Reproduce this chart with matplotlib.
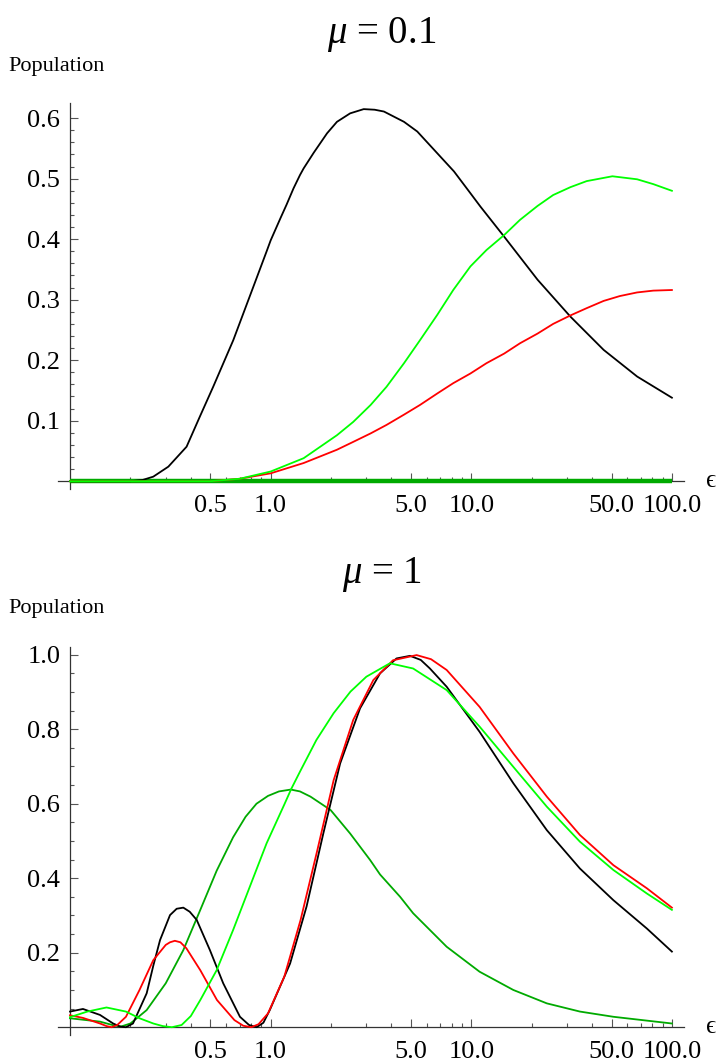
import matplotlib
matplotlib.use("Agg")
import matplotlib.pyplot as plt
from matplotlib.ticker import FixedLocator, NullFormatter, FixedFormatter

# ---------------- data ----------------
# panel 1: mu = 0.1
top_black_x = [0.1, 0.15, 0.2, 0.23, 0.26, 0.309, 0.381, 0.444, 0.517, 0.651, 0.819, 0.955, 1.0, 1.12, 1.2, 1.30,
               1.40, 1.46, 1.64, 1.91, 2.14, 2.49, 2.91, 3.3, 3.67, 4.62, 5.38, 6.77, 8.2, 9.9, 11.1, 14.6, 21.4,
               31.2, 45.7, 67.1, 100]
top_black_y = [0.0, 0.0, 0.0, 0.002, 0.0075, 0.024, 0.057, 0.107, 0.156, 0.233, 0.321, 0.380, 0.398, 0.435, 0.457,
               0.484, 0.506, 0.517, 0.543, 0.575, 0.594, 0.608, 0.615, 0.614, 0.611, 0.594, 0.578, 0.542, 0.512, 0.476,
               0.454, 0.404, 0.333, 0.272, 0.217, 0.173, 0.138]
top_green_x = [0.1, 0.3, 0.5, 0.7, 1.0, 1.46, 2.14, 2.58, 3.15, 3.78, 4.62, 5.55, 6.77, 8.13, 9.9, 11.9, 14.6, 17.5,
               21.4, 25.6, 31.2, 37.6, 50.5, 67.1, 80.8, 100]
top_green_y = [0.0, 0.0, 0.0, 0.004, 0.016, 0.038, 0.076, 0.098, 0.126, 0.156, 0.195, 0.233, 0.275, 0.316, 0.355,
               0.382, 0.407, 0.432, 0.455, 0.473, 0.486, 0.496, 0.504, 0.499, 0.491, 0.480]
top_red_x = [0.1, 0.5, 0.7, 1.0, 1.46, 2.14, 2.58, 3.15, 3.78, 4.62, 5.55, 6.77, 8.13, 9.9, 11.9, 14.6, 17.5, 21.4,
             25.6, 31.2, 37.6, 45.7, 55.0, 67.1, 80.8, 100]
top_red_y = [0.0, 0.0, 0.004, 0.013, 0.030, 0.052, 0.065, 0.079, 0.093, 0.110, 0.126, 0.145, 0.162, 0.178, 0.195,
             0.211, 0.228, 0.244, 0.260, 0.274, 0.286, 0.298, 0.306, 0.312, 0.315, 0.316]
top_dkgreen_x = [0.1, 1.0, 10.0, 100]
top_dkgreen_y = [0.0, 0.0, 0.0, 0.0]

# panel 2: mu = 1
bot_black_x = [0.1, 0.116, 0.141, 0.164, 0.177, 0.19, 0.206, 0.241, 0.26, 0.281, 0.315, 0.34, 0.367, 0.395, 0.428,
               0.498, 0.58, 0.703, 0.78, 0.851, 0.92, 0.99, 1.25, 1.51, 1.83, 2.22, 2.79, 3.51, 4.24, 4.95, 5.6, 6.22,
               7.54, 11.0, 16.2, 23.8, 34.8, 51.1, 75.0, 100]
bot_black_y = [0.042, 0.049, 0.033, 0.010, 0.002, 0.0, 0.010, 0.091, 0.165, 0.234, 0.301, 0.318, 0.321, 0.310, 0.288,
               0.207, 0.118, 0.028, 0.006, 0.0, 0.012, 0.046, 0.171, 0.324, 0.520, 0.708, 0.856, 0.950, 0.990, 0.997,
               0.986, 0.963, 0.914, 0.793, 0.655, 0.529, 0.426, 0.341, 0.265, 0.203]
bot_red_x = [0.1, 0.116, 0.141, 0.152, 0.161, 0.172, 0.19, 0.222, 0.26, 0.30, 0.315, 0.333, 0.355, 0.38, 0.446, 0.54,
             0.66, 0.73, 0.80, 0.87, 0.97, 1.17, 1.41, 1.71, 2.06, 2.58, 3.25, 4.07, 5.34, 6.3, 7.54, 11.0, 16.2, 23.8,
             34.8, 51.1, 75, 100]
bot_red_y = [0.032, 0.025, 0.010, 0.003, 0.0, 0.006, 0.028, 0.100, 0.180, 0.221, 0.228, 0.232, 0.228, 0.212, 0.153,
             0.073, 0.019, 0.004, 0.0, 0.008, 0.037, 0.136, 0.288, 0.476, 0.663, 0.825, 0.932, 0.985, 0.999, 0.988,
             0.959, 0.860, 0.735, 0.619, 0.516, 0.435, 0.373, 0.321]
bot_green_x = [0.1, 0.122, 0.152, 0.19, 0.222, 0.26, 0.29, 0.322, 0.36, 0.40, 0.446, 0.538, 0.65, 0.787, 0.955, 1.17,
               1.27, 1.40, 1.69, 2.06, 2.50, 3.0, 3.93, 5.13, 7.54, 11.0, 16.2, 23.8, 34.8, 51.1, 75, 100]
bot_green_y = [0.027, 0.042, 0.053, 0.042, 0.024, 0.010, 0.003, 0.0, 0.006, 0.030, 0.073, 0.153, 0.261, 0.377, 0.494,
               0.598, 0.641, 0.686, 0.771, 0.843, 0.901, 0.941, 0.977, 0.963, 0.905, 0.807, 0.699, 0.592, 0.498, 0.422,
               0.359, 0.315]
bot_dkgreen_x = [0.1, 0.141, 0.165, 0.18, 0.2, 0.241, 0.30, 0.367, 0.446, 0.538, 0.65, 0.75, 0.85, 0.97, 1.1, 1.26,
                 1.4, 1.58, 1.99, 2.49, 3.13, 3.51, 4.42, 5.13, 7.54, 11.0, 16.2, 23.8, 34.8, 51.1, 100]
bot_dkgreen_y = [0.024, 0.015, 0.005, 0.002, 0.01, 0.046, 0.118, 0.207, 0.315, 0.420, 0.510, 0.565, 0.600, 0.621,
                 0.633, 0.638, 0.633, 0.619, 0.583, 0.520, 0.449, 0.410, 0.350, 0.306, 0.216, 0.149, 0.100, 0.064,
                 0.042, 0.028, 0.010]

x_major = [0.5, 1.0, 5.0, 10.0, 50.0, 100.0]
x_major_labels = ["0.5", "1.0", "5.0", "10.0", "50.0", "100.0"]
x_minor = [0.2, 0.3, 0.4, 0.6, 0.7, 0.8, 0.9, 2, 3, 4, 6, 7, 8, 9, 20, 30, 40, 60, 70, 80, 90]
top_y_major = [0.1, 0.2, 0.3, 0.4, 0.5, 0.6]
top_y_labels = ["0.1", "0.2", "0.3", "0.4", "0.5", "0.6"]
bot_y_major = [0.2, 0.4, 0.6, 0.8, 1.0]
bot_y_labels = ["0.2", "0.4", "0.6", "0.8", "1.0"]
titles = [r"$\mu$ = 0.1", r"$\mu$ = 1"]
ylabel = "Population"
xlabel = "\u03f5"

# ---------------- style ----------------
plt.rcParams["font.family"] = ["Liberation Serif", "DejaVu Serif"]
plt.rcParams["mathtext.fontset"] = "custom"
plt.rcParams["mathtext.rm"] = "Liberation Serif"
plt.rcParams["mathtext.it"] = "Liberation Serif:italic"

W, H = 723, 1064
fig = plt.figure(figsize=(W / 100, H / 100), dpi=100)

AX_COL = "#333333"
TK_COL = "#555555"
BLACK, RED, GREEN, DKGREEN = "#000000", "#ff0000", "#00ff00", "#00aa00"


def make_axes(top_px, bot_px, ylim, ymaj, ylabs, yminor_step):
    left_px, right_px = 58, 684
    ax = fig.add_axes([left_px / W, 1 - bot_px / H, (right_px - left_px) / W, (bot_px - top_px) / H])
    ax.set_xscale("log")
    ax.set_xlim(0.0871, 114.9)
    ax.set_ylim(*ylim)
    for s in ("top", "right"):
        ax.spines[s].set_visible(False)
    ax.spines["left"].set_position(("data", 0.1))
    ax.spines["bottom"].set_position(("data", 0.0))
    for s in ("left", "bottom"):
        ax.spines[s].set_color(AX_COL)
        ax.spines[s].set_linewidth(0.9)
    ax.xaxis.set_major_locator(FixedLocator(x_major))
    ax.xaxis.set_major_formatter(FixedFormatter(x_major_labels))
    ax.xaxis.set_minor_locator(FixedLocator(x_minor))
    ax.xaxis.set_minor_formatter(NullFormatter())
    ax.yaxis.set_major_locator(FixedLocator(ymaj))
    ax.yaxis.set_major_formatter(FixedFormatter(ylabs))
    n = int(round(ymaj[-1] / yminor_step))
    ax.yaxis.set_minor_locator(FixedLocator([i * yminor_step for i in range(1, n + 1)]))
    ax.tick_params(which="both", direction="in", color=TK_COL, labelsize=19, width=0.8)
    ax.tick_params(which="major", length=5.5)
    ax.tick_params(which="minor", length=3.2)
    ax.tick_params(axis="x", which="major", pad=10)
    ax.tick_params(axis="y", which="major", pad=7)
    ax.patch.set_alpha(0)
    return ax


ax1 = make_axes(102.7, 489.0, (-0.0129, 0.6256), top_y_major, top_y_labels, 0.02)
ax1.plot(top_dkgreen_x, top_dkgreen_y, color=DKGREEN, lw=3.2, solid_capstyle="butt", zorder=3)
ax1.plot(top_black_x, top_black_y, color=BLACK, lw=1.3, zorder=4)
ax1.plot(top_red_x, top_red_y, color=RED, lw=1.3, zorder=4)
ax1.plot(top_green_x, top_green_y, color=GREEN, lw=1.3, zorder=5)

ax2 = make_axes(647.3, 1035.0, (-0.0209, 1.0199), bot_y_major, bot_y_labels, 0.05)
ax2.plot(bot_dkgreen_x, bot_dkgreen_y, color=DKGREEN, lw=1.3, zorder=3)
ax2.plot(bot_black_x, bot_black_y, color=BLACK, lw=1.3, zorder=4)
ax2.plot(bot_red_x, bot_red_y, color=RED, lw=1.3, zorder=4)
ax2.plot(bot_green_x, bot_green_y, color=GREEN, lw=1.3, zorder=5)

# titles and labels (pixel positions)
fig.text(382 / W, 1 - 34 / H, titles[0], ha="center", va="center", fontsize=28)
fig.text(382 / W, 1 - 574 / H, titles[1], ha="center", va="center", fontsize=28)
fig.text(8 / W, 1 - 67 / H, ylabel, ha="left", va="center", fontsize=16)
fig.text(8 / W, 1 - 609 / H, ylabel, ha="left", va="center", fontsize=16)
fig.text(706 / W, 1 - 481 / H, xlabel, ha="left", va="center", fontsize=18)
fig.text(706 / W, 1 - 1027 / H, xlabel, ha="left", va="center", fontsize=18)

fig.savefig("out.png", dpi=100)
